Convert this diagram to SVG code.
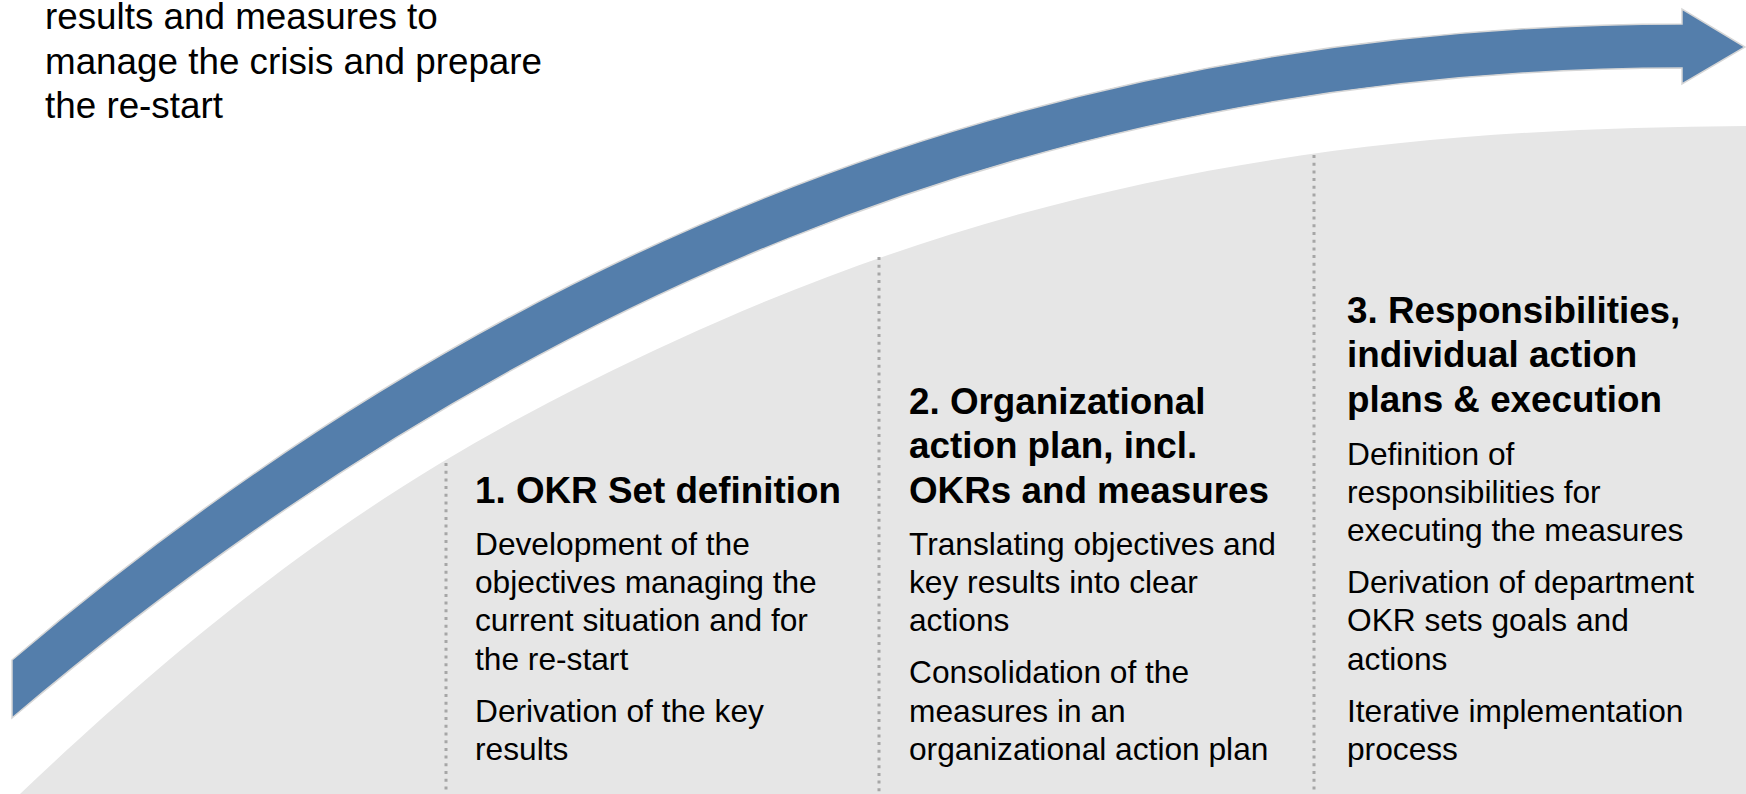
<svg xmlns="http://www.w3.org/2000/svg" width="1746" height="794" viewBox="0 0 1746 794">
  <style>
    .intro { font-family: "Liberation Sans", Arial, sans-serif; font-size: 36.8px; fill: #000; }
    .head { font-family: "Liberation Sans", Arial, sans-serif; font-size: 36.8px; font-weight: bold; fill: #000; }
    .body { font-family: "Liberation Sans", Arial, sans-serif; font-size: 31.7px; fill: #000; }
    .divider { stroke: #A6A6A6; stroke-width: 3; stroke-dasharray: 3 4.7; fill: none; }
  </style>

  <rect x="0" y="0" width="1746" height="794" fill="#FFFFFF"/>

  <!-- grey field behind the three phases -->
  <g id="phase-field">
    <path d="M 20,794 C 280,547 457,441 677,340 C 1057,165 1396,128 1746,126 L 1746,794 Z" fill="#E6E6E6"/>
  </g>

  <!-- rising progress arrow: upper edge, arrowhead, then lower edge back to the tail -->
  <g id="progress-arrow">
    <path d="M 12,660 C 475,265 1025,24 1682,24
             L 1682,9 L 1745,47 L 1682,84 L 1682,68
             C 1040,68 500,305 12,718 Z"
          fill="#547EAB" stroke="#D6D6D6" stroke-width="1.5" stroke-linejoin="miter"/>
  </g>

  <!-- dotted separators between phases -->
  <g id="connectors">
    <path class="divider" d="M 446,463 V 794"/>
    <path class="divider" d="M 879,257 V 794"/>
    <path class="divider" d="M 1314,155 V 794"/>
  </g>

  <g id="intro-text">
    <text class="intro" x="45" y="29">results and measures to</text>
    <text class="intro" x="45" y="73.5">manage the crisis and prepare</text>
    <text class="intro" x="45" y="118">the re-start</text>
  </g>

  <g id="phase-1">
    <text class="head" x="475" y="502.8">1. OKR Set definition</text>
    <text class="body" x="475" y="554.8">Development of the</text>
    <text class="body" x="475" y="593.1">objectives managing the</text>
    <text class="body" x="475" y="631.4">current situation and for</text>
    <text class="body" x="475" y="669.7">the re-start</text>
    <text class="body" x="475" y="721.7">Derivation of the key</text>
    <text class="body" x="475" y="760">results</text>
  </g>

  <g id="phase-2">
    <text class="head" x="909" y="413.8">2. Organizational</text>
    <text class="head" x="909" y="458.3">action plan, incl.</text>
    <text class="head" x="909" y="502.8">OKRs and measures</text>
    <text class="body" x="909" y="554.8">Translating objectives and</text>
    <text class="body" x="909" y="593.1">key results into clear</text>
    <text class="body" x="909" y="631.4">actions</text>
    <text class="body" x="909" y="683.4">Consolidation of the</text>
    <text class="body" x="909" y="721.7">measures in an</text>
    <text class="body" x="909" y="760">organizational action plan</text>
  </g>

  <g id="phase-3">
    <text class="head" x="1347" y="322.5">3. Responsibilities,</text>
    <text class="head" x="1347" y="367">individual action</text>
    <text class="head" x="1347" y="411.5">plans &amp; execution</text>
    <text class="body" x="1347" y="464.5">Definition of</text>
    <text class="body" x="1347" y="502.8">responsibilities for</text>
    <text class="body" x="1347" y="541.1">executing the measures</text>
    <text class="body" x="1347" y="593.1">Derivation of department</text>
    <text class="body" x="1347" y="631.4">OKR sets goals and</text>
    <text class="body" x="1347" y="669.7">actions</text>
    <text class="body" x="1347" y="721.7">Iterative implementation</text>
    <text class="body" x="1347" y="760">process</text>
  </g>
</svg>
